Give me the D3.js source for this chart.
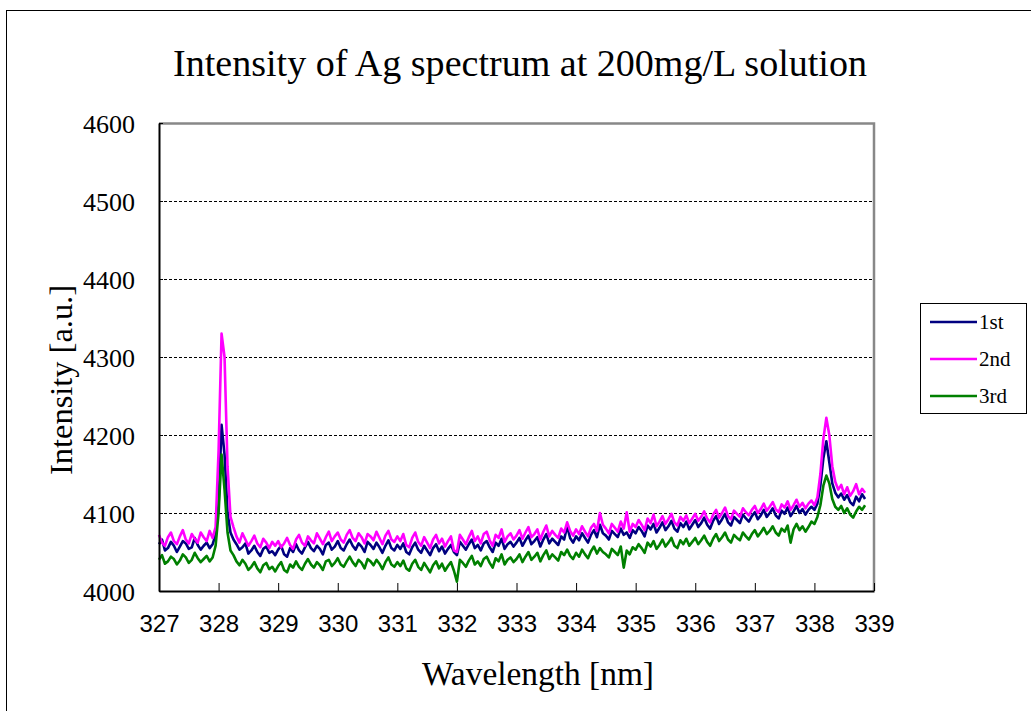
<!DOCTYPE html>
<html>
<head>
<meta charset="utf-8">
<script src="https://cdn.jsdelivr.net/npm/d3@7"></script>
<style>
    body { margin: 0; background: #fff; }
    svg { display: block; }
</style>
</head>
<body>
<div class="vis-spectrum"></div>
<script>
// wavelength grid: 327.00 .. 338.85 nm, step 0.05
const wlStart = 327.0;
const wlStep = 0.05;

const xTicks = [327, 328, 329, 330, 331, 332, 333, 334, 335, 336, 337, 338, 339];
const yTicks = [4000, 4100, 4200, 4300, 4400, 4500, 4600];
const seriesNames = ["1st", "2nd", "3rd"];

// 1st run (20 points per nm)
const first = [
    4060, 4066, 4052, 4055, 4063, 4058, 4050, 4057, 4064, 4061, 4054, 4056, 4068, 4059, 4053, 4058, 4062, 4055, 4060, 4072,
    4110, 4213, 4175, 4100, 4075, 4066, 4060, 4053, 4056, 4061, 4048, 4052, 4058, 4050, 4045, 4054, 4057, 4049, 4051, 4046,
    4053, 4058, 4047, 4044, 4055, 4050, 4060, 4052, 4048, 4056, 4063, 4055, 4051, 4058, 4054, 4047, 4059, 4062, 4053, 4057,
    4064, 4055, 4052, 4060, 4066, 4058, 4053, 4061, 4057, 4050, 4063, 4059, 4054, 4062, 4056, 4049, 4058, 4065, 4055, 4052,
    4059, 4054, 4061, 4050, 4047, 4056, 4062, 4053, 4049, 4058, 4052, 4046, 4055, 4060, 4051, 4057, 4048, 4054, 4059, 4050,
    4046, 4063, 4058, 4053, 4060, 4066, 4055, 4059, 4052, 4061, 4064, 4056, 4050, 4062, 4058, 4067, 4054, 4060, 4063, 4057,
    4062, 4068, 4058, 4065, 4071, 4060, 4064, 4069, 4057, 4066, 4073, 4061, 4067, 4063, 4059, 4070, 4066, 4083, 4068, 4062,
    4070, 4065, 4074, 4068, 4062, 4072, 4078, 4069, 4085, 4074, 4071, 4066, 4077, 4073, 4069, 4080, 4072, 4075, 4068, 4078,
    4074, 4082, 4077, 4070, 4084, 4079, 4086, 4075, 4081, 4088, 4078, 4083, 4090, 4080, 4076, 4087, 4082, 4089, 4079, 4085,
    4091, 4082, 4087, 4094, 4085, 4080, 4090, 4096, 4086, 4092, 4099, 4088, 4084, 4095, 4091, 4087, 4098, 4093, 4089, 4096,
    4101, 4092, 4097, 4104, 4095, 4100, 4106, 4097, 4093, 4103, 4099, 4107, 4096, 4102, 4109, 4100, 4105, 4098, 4104, 4108,
    4104, 4112, 4135, 4170, 4192, 4165, 4138, 4126, 4120, 4125, 4117, 4123, 4114, 4110, 4121, 4115, 4124, 4118
];

// 2nd run
const second = [
    4072, 4062, 4058, 4069, 4075, 4064, 4060, 4070, 4078, 4066, 4061, 4073, 4067, 4062, 4075, 4069, 4064, 4077, 4068, 4082,
    4180, 4330, 4300, 4160, 4095, 4082, 4070, 4062, 4074, 4066, 4058, 4064, 4071, 4061, 4056, 4067, 4062, 4055, 4063, 4058,
    4064, 4056, 4061, 4068, 4059, 4054, 4066, 4072, 4062, 4058, 4070, 4065, 4061, 4074, 4067, 4060, 4069, 4076, 4064, 4070,
    4075, 4066, 4062, 4072, 4078, 4068, 4064, 4074, 4069, 4061, 4073, 4070, 4065, 4076, 4068, 4060, 4071, 4077, 4066, 4063,
    4070, 4064, 4073, 4059, 4056, 4068, 4075, 4063, 4058, 4069, 4062, 4055, 4066, 4072, 4061, 4067, 4057, 4064, 4070, 4052,
    4050, 4072, 4066, 4060, 4069, 4077, 4064, 4070, 4061, 4073, 4076, 4065, 4058, 4072, 4068, 4079, 4063, 4070, 4074, 4066,
    4071, 4078, 4067, 4075, 4082, 4069, 4073, 4079, 4066, 4076, 4084, 4070, 4077, 4072, 4068, 4080, 4075, 4088, 4077, 4071,
    4079, 4073, 4083, 4076, 4070, 4081, 4086, 4077, 4100, 4085, 4080, 4074, 4086, 4081, 4076, 4089, 4080, 4101, 4076, 4086,
    4082, 4091, 4085, 4078, 4093, 4087, 4098, 4083, 4089, 4096, 4086, 4092, 4099, 4088, 4084, 4095, 4090, 4097, 4087, 4093,
    4099, 4090, 4095, 4102, 4093, 4088, 4098, 4104, 4094, 4100, 4107, 4096, 4092, 4103, 4099, 4095, 4106, 4101, 4097, 4104,
    4109, 4100, 4105, 4112, 4103, 4108, 4114, 4105, 4101, 4111, 4107, 4115, 4104, 4110, 4117, 4108, 4113, 4106, 4112, 4116,
    4110, 4120, 4150, 4195, 4222, 4200, 4160, 4140, 4130, 4136, 4124, 4133, 4122, 4128, 4137, 4124, 4131, 4126
];

// 3rd run
const third = [
    4040, 4046, 4035, 4038, 4044, 4041, 4034, 4039, 4047, 4043, 4036, 4040, 4049, 4042, 4037, 4041, 4045, 4038, 4043, 4058,
    4100, 4175, 4130, 4075, 4052, 4046, 4038, 4033, 4040, 4035, 4027, 4031, 4037, 4029, 4024, 4033, 4036, 4028, 4031, 4025,
    4032, 4037, 4027, 4024, 4034, 4030, 4038, 4031, 4027, 4035, 4041, 4034, 4030, 4037, 4033, 4027, 4038, 4040, 4032, 4036,
    4042, 4034, 4031, 4038, 4044, 4037, 4032, 4040, 4036, 4029, 4041, 4038, 4033, 4040, 4035, 4028, 4037, 4043, 4034, 4031,
    4037, 4032, 4039, 4029, 4026, 4035, 4040, 4031, 4027, 4036, 4030, 4024, 4033, 4038, 4029, 4035, 4026, 4032, 4037, 4026,
    4012, 4040, 4036, 4031, 4039, 4045, 4034, 4038, 4032, 4041, 4044, 4036, 4030, 4042, 4038, 4047, 4034, 4040, 4043, 4037,
    4041, 4047, 4037, 4044, 4050, 4040, 4044, 4049, 4038, 4046, 4052, 4041, 4047, 4043, 4039, 4050, 4046, 4053, 4045, 4041,
    4049, 4044, 4053, 4047, 4042, 4051, 4057, 4048, 4055, 4050, 4047, 4043, 4054, 4050, 4046, 4057, 4030, 4052, 4047, 4056,
    4053, 4060, 4055, 4049, 4062, 4057, 4064, 4054, 4059, 4066, 4057, 4062, 4068, 4058, 4055, 4065, 4060, 4067, 4058, 4063,
    4068, 4060, 4065, 4071, 4063, 4058, 4067, 4073, 4064, 4069, 4075, 4066, 4062, 4072, 4068, 4065, 4075, 4070, 4066, 4073,
    4078, 4070, 4075, 4081, 4073, 4077, 4083, 4075, 4071, 4080, 4076, 4084, 4062, 4079, 4086, 4078, 4083, 4076, 4082, 4089,
    4086, 4095, 4110, 4135, 4148, 4138, 4118, 4108, 4104, 4109, 4100, 4106, 4098, 4094, 4102, 4108, 4104, 4110
];

const config = {
    "colors": ["#000080", "#ff00ff", "#008000"],
    "frame-color": "#888",
    "text-color": "#000",
    "serif": "'Liberation Serif', 'Times New Roman', serif"
};

const draw = () => {
    const W = 1031, H = 711;
    const margin = { top: 123, left: 159, right: W - 874, bottom: H - 591 };
    const width = W - margin.left - margin.right;
    const height = H - margin.top - margin.bottom;

    const root = d3.select(".vis-spectrum")
        .append("svg")
        .attr("width", W)
        .attr("height", H);

    // outer chart frame
    root.append("rect")
        .attr("x", 6.5).attr("y", 10.5)
        .attr("width", W + 20).attr("height", H + 20)
        .attr("fill", "none").attr("stroke", "#000").attr("stroke-width", 1);

    // title (narrow, tall Times look)
    root.append("text")
        .attr("x", 520).attr("y", 76)
        .attr("text-anchor", "middle")
        .attr("textLength", 694)
        .attr("lengthAdjust", "spacingAndGlyphs")
        .style("font-family", config.serif)
        .style("font-size", "38px")
        .text("Intensity of Ag spectrum at 200mg/L solution");

    const svg = root.append("g")
        .attr("transform", `translate(${margin.left},${margin.top})`);

    const x = d3.scaleLinear().domain([327, 339]).range([0, width]);
    const y = d3.scaleLinear().domain([4000, 4600]).range([height, 0]);

    // gridlines
    svg.append("g")
        .selectAll("line")
        .data(yTicks.filter(d => d > 4000 && d < 4600))
        .enter()
        .append("line")
        .attr("x1", 0).attr("x2", width)
        .attr("y1", d => Math.round(y(d)) + 0.5)
        .attr("y2", d => Math.round(y(d)) + 0.5)
        .attr("stroke", "#000")
        .attr("stroke-width", 1)
        .attr("stroke-dasharray", "3,2");

    // plot frame (top/right grey)
    svg.append("path")
        .attr("d", `M0,0.5H${width}V${height}`)
        .attr("fill", "none")
        .attr("stroke", config["frame-color"])
        .attr("stroke-width", 2.5);

    // series
    const wl = d3.range(first.length).map(i => wlStart + i * wlStep);
    const runs = [first, second, third];
    const line = d3.line()
        .x((d, i) => x(wl[i]))
        .y(d => y(d));

    svg.append("g")
        .selectAll("path")
        .data(runs)
        .enter()
        .append("path")
        .attr("d", d => line(d))
        .attr("fill", "none")
        .attr("stroke", (d, i) => config.colors[i])
        .attr("stroke-width", 2.6)
        .attr("stroke-linejoin", "round");

    // x axis (ticks inside)
    const xAxis = svg.append("g")
        .attr("transform", `translate(0,${height})`)
        .call(d3.axisBottom(x).tickValues(xTicks).tickSize(-8).tickPadding(24).tickSizeOuter(0));
    xAxis.select(".domain").attr("stroke", "#000").attr("stroke-width", 2);
    xAxis.selectAll(".tick line").attr("stroke", "#000").attr("stroke-width", 1);
    xAxis.selectAll("text")
        .attr("fill", config["text-color"])
        .style("font-family", "'Liberation Sans', Arial, sans-serif")
        .style("font-size", "24px");

    // y axis
    const yAxis = svg.append("g")
        .call(d3.axisLeft(y).tickValues(yTicks).tickFormat(d3.format("d")).tickSize(-4).tickPadding(24).tickSizeOuter(0));
    yAxis.select(".domain").attr("stroke", "#000").attr("stroke-width", 2);
    yAxis.selectAll(".tick line").attr("stroke", "#000");
    yAxis.selectAll("text")
        .attr("fill", config["text-color"])
        .attr("dy", "0.36em")
        .style("font-family", config.serif)
        .style("font-size", "26px");

    // axis titles
    root.append("text")
        .attr("transform", "translate(72,380) rotate(-90)")
        .attr("text-anchor", "middle")
        .attr("textLength", 190)
        .attr("lengthAdjust", "spacingAndGlyphs")
        .style("font-family", config.serif)
        .style("font-size", "32px")
        .text("Intensity [a.u.]");

    root.append("text")
        .attr("x", 538).attr("y", 685)
        .attr("text-anchor", "middle")
        .attr("textLength", 232)
        .attr("lengthAdjust", "spacingAndGlyphs")
        .style("font-family", config.serif)
        .style("font-size", "33px")
        .text("Wavelength [nm]");

    // legend
    const legend = root.append("g").attr("transform", "translate(920,303)");
    legend.append("rect")
        .attr("x", 0.5).attr("y", 0.5)
        .attr("width", 106).attr("height", 110)
        .attr("fill", "#fff").attr("stroke", "#000").attr("stroke-width", 1);

    const items = legend.selectAll(".legend_item")
        .data(seriesNames)
        .enter()
        .append("g")
        .attr("class", "legend_item")
        .attr("transform", (d, i) => `translate(0, ${19 + i * 37})`);
    items.append("line")
        .attr("x1", 10).attr("x2", 57)
        .attr("y1", 0).attr("y2", 0)
        .attr("stroke", (d, i) => config.colors[i])
        .attr("stroke-width", 2.4);
    items.append("text")
        .attr("x", 59).attr("y", 7)
        .style("font-family", config.serif)
        .style("font-size", "21px")
        .text(d => d);

    return svg;
};

draw();
</script>
</body>
</html>
